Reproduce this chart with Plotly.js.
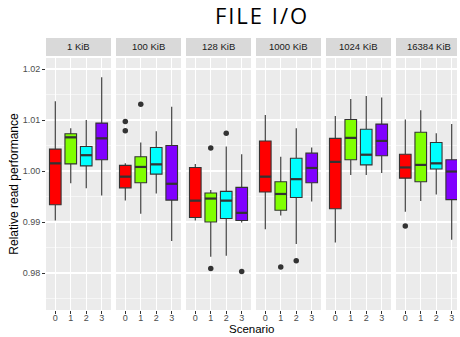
<!DOCTYPE html>
<html>
<head>
<meta charset="utf-8">
<script src="https://cdn.plot.ly/plotly-3.0.1.min.js"></script>
<style>
html,body{margin:0;padding:0;background:#fff;}
#chart{width:460px;height:337px;}
#chart .gtitle{letter-spacing:2px;}
</style>
</head>
<body>
<div id="chart"></div>
<script>
// ---- data ----
const panels = ['1 KiB','100 KiB','128 KiB','1000 KiB','1024 KiB','16384 KiB'];
const scenarios = [0,1,2,3];
const scenarioLabels = ['0','1','2','3'];
const colors = ['#FF0000','#80FF00','#00FFFF','#8000FF'];
const yTicks = [0.98,0.99,1.00,1.01,1.02];
const yTickLabels = ['0.98','0.99','1.00','1.01','1.02'];

// one row per panel, one value per scenario 0..3
const lowerFence = [
  [0.9903,0.9976,0.9966,0.9952],
  [0.9942,0.9916,0.9956,0.9863],
  [0.9903,0.9832,0.9834,0.9899],
  [0.9886,0.9913,0.9857,0.9940],
  [0.9860,0.9992,0.9992,0.9996],
  [0.9920,0.9941,0.9954,0.9865]
];
const q1 = [
  [0.9934,1.0014,1.0010,1.0022],
  [0.9967,0.9977,0.9994,0.9943],
  [0.9909,0.9900,0.9907,0.9903],
  [0.9959,0.9923,0.9948,0.9977],
  [0.9926,1.0022,1.0012,1.0030],
  [0.9986,0.9979,1.0004,0.9944]
];
const median = [
  [1.0015,1.0066,1.0031,1.0064],
  [0.9989,1.0008,1.0013,0.9975],
  [0.9942,0.9946,0.9942,0.9918],
  [0.9989,0.9955,0.9984,1.0006],
  [1.0018,1.0065,1.0032,1.0059],
  [1.0007,1.0012,1.0015,0.9999]
];
const q3 = [
  [1.0043,1.0073,1.0048,1.0094],
  [1.0011,1.0028,1.0046,1.0050],
  [1.0007,0.9957,0.9960,0.9968],
  [1.0059,0.9979,1.0025,1.0035],
  [1.0064,1.0101,1.0082,1.0092],
  [1.0033,1.0076,1.0056,1.0022]
];
const upperFence = [
  [1.0137,1.0084,1.0100,1.0184],
  [1.0015,1.0056,1.0078,1.0126],
  [1.0014,0.9963,1.0048,1.0033],
  [1.0110,1.0028,1.0084,1.0046],
  [1.0108,1.0141,1.0147,1.0144],
  [1.0101,1.0119,1.0074,1.0092]
];
const outlierPanel    = [1,1,1,2,2,2,2,3,3,5];
const outlierScenario = [0,0,1,1,1,2,3,1,2,0];
const outlierValue    = [1.0097,1.0079,1.0131,1.0045,0.9809,1.0074,0.9803,0.9812,0.9824,0.9892];

// ---- layout geometry (pixels) ----
const W = 460, H = 337;
const mL = 46, mR = 3, mT = 58, mB = 27;
const plotW = W - mL - mR, plotH = H - mT - mB;
const panelW = 65, gap = 5;
const boxW = 0.75;
const yRange = [0.97275, 1.02216];
const pxPerUnit = panelW / 4.2;

const traces = [];
const layout = {
  width: W, height: H,
  margin: {l: mL, r: mR, t: mT, b: mB, pad: 0},
  paper_bgcolor: '#FFFFFF',
  plot_bgcolor: '#EBEBEB',
  showlegend: false,
  hovermode: false,
  font: {family: 'Liberation Sans, Arial, sans-serif', color: '#4D4D4D', size: 9},
  title: {
    text: 'FILE I/O',
    font: {family: 'Open Sans, sans-serif', size: 22, color: '#000000'},
    xref: 'container', x: 262 / W, xanchor: 'center',
    yref: 'container', y: 1 - 16 / H, yanchor: 'middle'
  },
  shapes: [],
  annotations: []
};

panels.forEach((name, p) => {
  const suf = p === 0 ? '' : String(p + 1);
  const xa = 'x' + suf, ya = 'y' + suf;
  const x0px = p * (panelW + gap);
  const x1px = Math.min(x0px + panelW, plotW);
  const d0 = x0px / plotW, d1 = x1px / plotW;
  const rangeMax = -0.6 + (x1px - x0px) / pxPerUnit;

  layout['xaxis' + suf] = {
    domain: [d0, d1], anchor: ya, range: [-0.6, rangeMax],
    tickvals: scenarios, ticktext: scenarioLabels,
    ticks: 'outside', ticklen: 3, tickwidth: 1, tickcolor: '#333333',
    ticklabelstandoff: -4,
    showgrid: true, gridcolor: '#FFFFFF', gridwidth: 1.1,
    zeroline: false, showline: false,
    tickfont: {size: 9, color: '#4D4D4D'}, fixedrange: true
  };
  layout['yaxis' + suf] = {
    domain: [0, 1], anchor: xa, range: yRange,
    tickvals: yTicks, ticktext: yTickLabels,
    ticks: p === 0 ? 'outside' : '', ticklen: 3, tickwidth: 1, tickcolor: '#333333',
    showticklabels: p === 0,
    showgrid: true, gridcolor: '#FFFFFF', gridwidth: 1.1,
    minor: {tickvals: [0.975,0.985,0.995,1.005,1.015], showgrid: true, gridcolor: '#FFFFFF', gridwidth: 0.55, ticks: ''},
    zeroline: false, showline: false,
    tickfont: {size: 9, color: '#4D4D4D'}, fixedrange: true
  };
  if (p === 0) {
    layout.yaxis.title = {text: 'Relative read performance', font: {size: 12, color: '#000000'}, standoff: 1};
  }

  // strip
  const stripTop = 38, stripBot = 56;
  layout.shapes.push({
    type: 'rect', xref: 'paper', yref: 'paper',
    x0: d0, x1: d1,
    y0: (H - mB - stripBot) / plotH, y1: (H - mB - stripTop) / plotH,
    fillcolor: '#D9D9D9', line: {width: 0}, layer: 'below'
  });
  layout.annotations.push({
    text: name, xref: 'paper', yref: 'paper',
    x: (d0 + (x0px + panelW) / plotW) / 2, y: (H - mB - (stripTop + stripBot) / 2) / plotH,
    xanchor: 'center', yanchor: 'middle', showarrow: false,
    font: {size: 9.5, color: '#1A1A1A'}
  });

  scenarios.forEach((s, i) => {
    traces.push({
      type: 'box', xaxis: xa, yaxis: ya,
      x: [s], q1: [q1[p][i]], median: [median[p][i]], q3: [q3[p][i]],
      lowerfence: [lowerFence[p][i]], upperfence: [upperFence[p][i]],
      boxpoints: false, width: boxW, whiskerwidth: 0,
      fillcolor: colors[i], line: {color: '#333333', width: 1.1},
      hoverinfo: 'skip'
    });
    // thicker median bar, as ggplot draws it
    traces.push({
      type: 'scatter', mode: 'lines', xaxis: xa, yaxis: ya,
      x: [s - boxW / 2, s + boxW / 2], y: [median[p][i], median[p][i]],
      line: {color: '#333333', width: 2.2}, hoverinfo: 'skip'
    });
  });

  const ox = [], oy = [];
  outlierPanel.forEach((op, k) => {
    if (op === p) { ox.push(outlierScenario[k]); oy.push(outlierValue[k]); }
  });
  if (ox.length) {
    traces.push({
      type: 'scatter', mode: 'markers', xaxis: xa, yaxis: ya,
      x: ox, y: oy, marker: {color: '#333333', size: 5.5}, hoverinfo: 'skip'
    });
  }
});

layout.annotations.push({
  text: 'Scenario', xref: 'paper', yref: 'paper', x: 0.5, y: -(H - 1 - (H - mB)) / plotH,
  xanchor: 'center', yanchor: 'bottom', showarrow: false, borderpad: 0,
  font: {size: 11.5, color: '#000000'}
});

Plotly.newPlot('chart', traces, layout, {displayModeBar: false, staticPlot: true});
</script>
</body>
</html>
